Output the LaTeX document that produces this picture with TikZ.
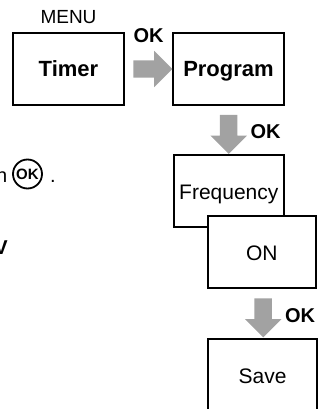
\documentclass[tikz,border=0pt]{standalone}
\usepackage{fontspec}
\setmainfont{Liberation Sans}
\usetikzlibrary{shapes.arrows,calc}
\definecolor{arrowgray}{RGB}{162,162,162}
\begin{document}
\begin{tikzpicture}[x=1pt,y=-1pt,
  box/.style={draw=black,line width=2pt,fill=white,minimum width=111pt,minimum height=72pt,
    inner sep=0pt,text height=16pt,text depth=0pt,font=\fontsize{21}{24}\selectfont},
  boldbox/.style={box,font=\fontsize{22}{26}\selectfont\bfseries},
  okarrow/.style={single arrow,fill=arrowgray,draw=none,minimum height=39pt,minimum width=36pt,
    inner sep=8.5pt,single arrow head extend=9.5pt},
  oklabel/.style={font=\fontsize{20}{24}\selectfont\bfseries,anchor=base,inner sep=0pt},
  plaintext/.style={inner sep=0pt,font=\fontsize{20}{24}\selectfont}
  ]
\clip (0,0) rectangle (320,409);
% boxes
\node[boldbox] (timer) at (68.5,69) {Timer};
\node[boldbox] (program) at (228.5,69) {Program};
\node[box,minimum width=110.5pt] (freq) at (228.8,191) {Frequency};
\node[box,minimum width=108.5pt] (on) at (261.8,252) {ON};
\node[box,minimum width=109pt] (save) at (262.5,375) {Save};
\node[plaintext,font=\fontsize{19}{22}\selectfont,anchor=base] (menu) at (68.5,24) {MENU};
% arrows
\node[okarrow] (a1) at ($(timer.east)!0.5!(program.west)$) {};
\node[okarrow,shape border rotate=270] (a2) at ($(program.south)!0.5!(freq.north)$) {};
\node[okarrow,shape border rotate=270] (a3) at ($(on.south)!0.5!(save.north)+(1,0)$) {};
% OK labels
\node[oklabel] (ok1) at (148.5,43) {OK};
\node[oklabel] (ok2) at (265.5,138) {OK};
\node[oklabel] (ok3) at (300,322) {OK};
% left text fragments
\node[plaintext,anchor=base east] (h) at (7.5,182) {h};
\node[circle,draw,line width=1.8pt,minimum size=29pt,inner sep=0pt,
  font=\fontsize{15}{17}\selectfont\bfseries] (okbtn) at (27.5,174) {OK};
\node[plaintext,anchor=base] (dot) at (53,182) {.};
\node[plaintext,anchor=base east,font=\fontsize{20}{24}\selectfont\bfseries] (v) at (8,254) {V};
\end{tikzpicture}
\end{document}
